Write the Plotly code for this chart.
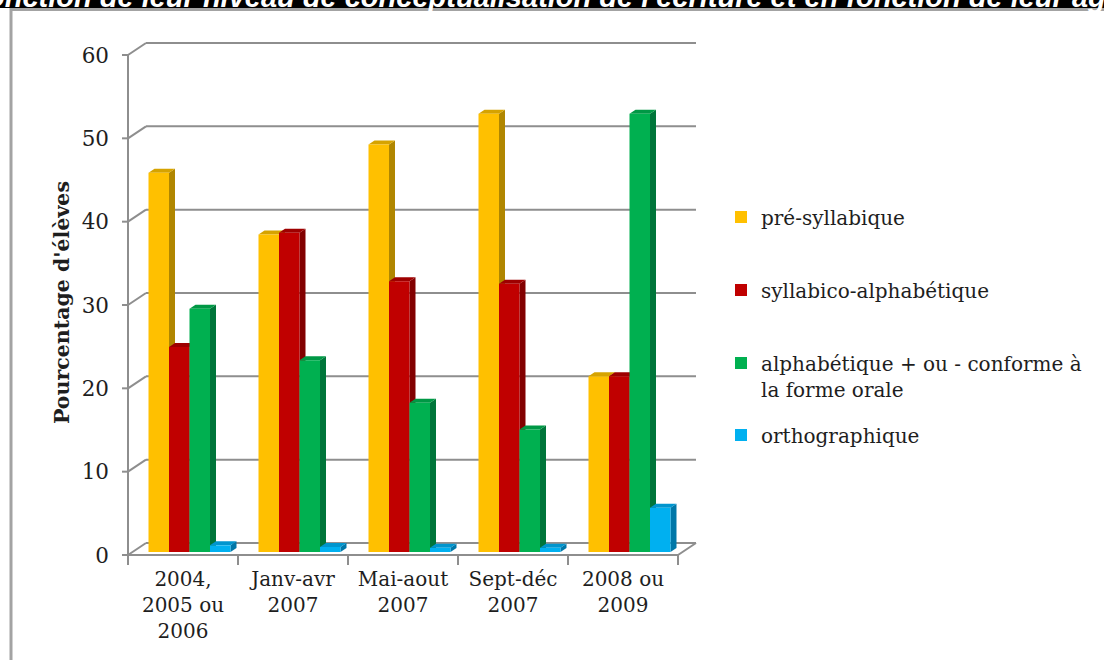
import plotly.graph_objects as go

# ---------------- data ----------------
categories = ["2004,<br>2005 ou<br>2006", "Janv-avr<br>2007", "Mai-aout<br>2007",
              "Sept-déc<br>2007", "2008 ou<br>2009"]
series_names = ["pré-syllabique", "syllabico-alphabétique",
                "alphabétique + ou - conforme à<br>la forme orale", "orthographique"]
pre_syllabique = [45.5, 38.1, 48.9, 52.6, 21.1]
syllabico_alphabetique = [24.6, 38.3, 32.5, 32.2, 21.1]
alphabetique = [29.2, 23.0, 17.9, 14.7, 52.6]
orthographique = [0.8, 0.6, 0.5, 0.5, 5.3]
y_ticks = [0, 10, 20, 30, 40, 50, 60]
band_text = "onction de leur niveau de conceptualisation de l'écriture et en fonction de leur âge"
y_title = "Pourcentage d'élèves"

series_values = [pre_syllabique, syllabico_alphabetique, alphabetique, orthographique]

# ---------------- style ----------------
front_colors = ["#FFC000", "#C00000", "#00B050", "#00B0F0"]
side_colors = ["#B08600", "#820000", "#00753A", "#0077A8"]
top_colors = ["#D6A300", "#9E0000", "#009845", "#0095CE"]
GRID = "#8E8E8E"
TXT = "#1E1E1E"
FONT = "DejaVu Serif"

W, H = 1104, 660
L, R, T, B = 126, 702, 40, 557          # plot area in px
PX_X = 110.0                            # px per category
PX_Y = 500.0 / 60.0                     # px per unit
x_lo = -0.5 - 2 / PX_X
x_hi = x_lo + (R - L) / PX_X
y_lo = -(B - 555) / PX_Y
y_hi = y_lo + (B - T) / PX_Y

DX, DY = 18 / PX_X, 12 / PX_Y           # wall depth
BW = 20.5 / PX_X                        # bar width
SHIFT = 6.5 / PX_X
BASE = 3 / PX_Y
BDX, BDY = 6 / PX_X, 4 / PX_Y           # bar depth


def xp(px):
    return (px - L) / (R - L)


def yp(py):
    return (B - py) / (B - T)


fig = go.Figure()
legend_ids = ["legend", "legend2", "legend3", "legend4"]

shapes = []
n_cat = len(categories)
for v in y_ticks:
    shapes.append(dict(type="line", xref="x", yref="y", layer="below",
                       x0=-0.5 + DX, x1=n_cat - 0.5 + DX, y0=v + DY, y1=v + DY,
                       line=dict(color=GRID, width=2)))
    shapes.append(dict(type="line", xref="x", yref="y", layer="below",
                       x0=-0.5, x1=-0.5 + DX, y0=v, y1=v + DY,
                       line=dict(color=GRID, width=2)))
    shapes.append(dict(type="line", xref="paper", yref="y", layer="below",
                       x0=xp(122), x1=xp(128), y0=v, y1=v,
                       line=dict(color=GRID, width=2)))
shapes.append(dict(type="line", xref="x", yref="y", layer="below",
                   x0=-0.5, x1=-0.5, y0=0, y1=y_ticks[-1],
                   line=dict(color=GRID, width=2)))
shapes.append(dict(type="line", xref="x", yref="y", layer="below",
                   x0=-0.5, x1=n_cat - 0.5, y0=0, y1=0,
                   line=dict(color=GRID, width=2)))
shapes.append(dict(type="line", xref="x", yref="y", layer="below",
                   x0=n_cat - 0.5, x1=n_cat - 0.5 + DX, y0=0, y1=DY,
                   line=dict(color=GRID, width=2)))
for i in range(n_cat + 1):
    shapes.append(dict(type="line", xref="x", yref="paper", layer="below",
                       x0=i - 0.5, x1=i - 0.5, y0=yp(555), y1=yp(565),
                       line=dict(color=GRID, width=2)))

for k, (name, vals) in enumerate(zip(series_names, series_values)):
    off = SHIFT - 2 * BW + k * BW
    fig.add_trace(go.Bar(
        x=categories, y=vals, base=BASE, offset=off, width=BW, name=name,
        marker=dict(color=front_colors[k], line=dict(width=0)),
        legend=legend_ids[k], hoverinfo="name+y"))
    for i, v in enumerate(vals):
        l = i + off
        r = l + BW
        top = BASE + v
        shapes.append(dict(
            type="path", xref="x", yref="y", layer="below", line=dict(width=0),
            fillcolor=side_colors[k],
            path=f"M{r},{BASE} L{r},{top} L{r + BDX},{top + BDY} L{r + BDX},{BASE + BDY} Z"))
        shapes.append(dict(
            type="path", xref="x", yref="y", layer="below", line=dict(width=0),
            fillcolor=top_colors[k],
            path=f"M{l},{top} L{r},{top} L{r + BDX},{top + BDY} L{l + BDX},{top + BDY} Z"))

shapes.append(dict(type="rect", xref="paper", yref="paper", layer="above",
                   x0=xp(-5), x1=xp(W + 5), y0=yp(8), y1=yp(-5),
                   fillcolor="black", line=dict(width=0)))
shapes.append(dict(type="rect", xref="paper", yref="paper", layer="above",
                   x0=xp(11), x1=xp(W + 10), y0=yp(H + 10), y1=yp(9.5),
                   fillcolor="rgba(0,0,0,0)", line=dict(color="#A3A3A3", width=3)))

annotations = [
    dict(text=y_title, xref="paper", yref="paper", x=xp(62), y=yp(303),
         xanchor="center", yanchor="middle", textangle=-90, showarrow=False,
         font=dict(family=FONT, size=20.5, color=TXT, weight="bold")),
    dict(text=band_text, xref="paper", yref="paper", x=xp(-15), y=yp(-3),
         xanchor="left", yanchor="middle", showarrow=False,
         font=dict(family="Liberation Sans", size=29, color="white",
                   weight="bold", style="italic")),
]

legend_base = dict(font=dict(family=FONT, size=20, color=TXT),
                   bgcolor="rgba(0,0,0,0)", xanchor="left", yanchor="middle",
                   x=xp(721), itemwidth=30, borderwidth=0)
legend_y = [217, 290, 376, 435]
layout_legends = {}
for k, lid in enumerate(legend_ids):
    d = dict(legend_base)
    d["y"] = yp(legend_y[k])
    if k == 2:
        d["valign"] = "top"
    layout_legends[lid] = d

fig.update_layout(
    width=W, height=H,
    margin=dict(l=L, r=W - R, t=T, b=H - B, pad=0, autoexpand=False),
    paper_bgcolor="white", plot_bgcolor="rgba(0,0,0,0)",
    barmode="overlay",
    showlegend=True,
    xaxis=dict(type="category", categoryorder="array", categoryarray=categories,
               range=[x_lo, x_hi], showgrid=False, zeroline=False, showline=False,
               ticks="", ticklabelstandoff=8,
               tickfont=dict(family=FONT, size=20, color=TXT), fixedrange=True),
    yaxis=dict(range=[y_lo, y_hi], tickvals=y_ticks, showgrid=False, zeroline=False,
               showline=False, ticks="", ticklabelstandoff=16,
               tickfont=dict(family=FONT, size=21.5, color=TXT), fixedrange=True),
    shapes=shapes,
    annotations=annotations,
    **layout_legends,
)

fig.write_html("out.html", config={"displayModeBar": False},
               post_script="document.body.style.margin='0';")
